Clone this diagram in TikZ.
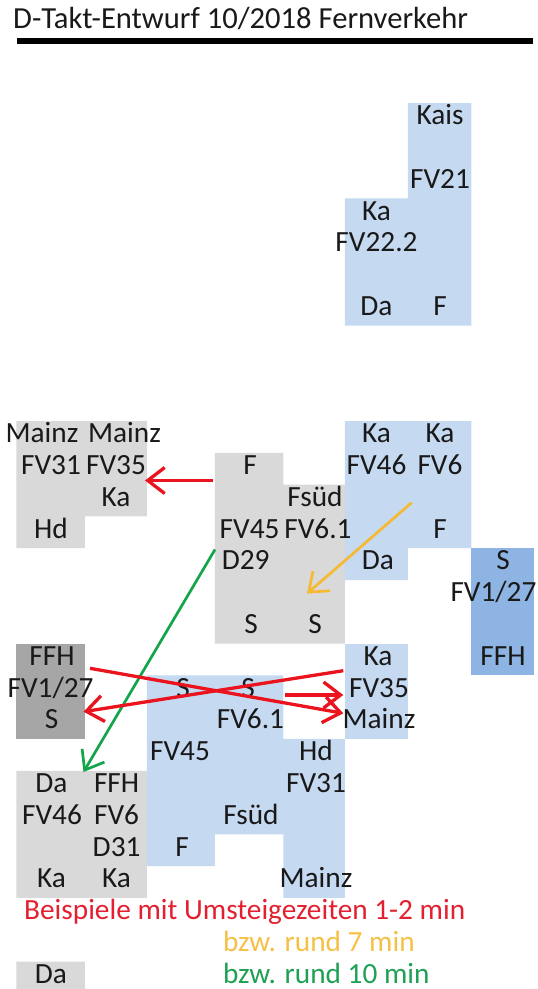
\documentclass[tikz,border=0pt]{standalone}
\usepackage{fontspec}
\setmainfont{Carlito}
\usetikzlibrary{arrows.meta}
\definecolor{cellblue}{RGB}{197,217,241}
\definecolor{cellmid}{RGB}{141,180,226}
\definecolor{cellgray}{RGB}{217,217,217}
\definecolor{celldark}{RGB}{166,166,166}
\definecolor{legred}{RGB}{226,32,48}
\definecolor{legorange}{RGB}{245,192,70}
\definecolor{leggreen}{RGB}{30,160,85}
\definecolor{hopred}{RGB}{235,20,30}
\definecolor{hoporange}{RGB}{245,185,50}
\definecolor{hopgreen}{RGB}{20,165,75}
\begin{document}
\begin{tikzpicture}[x=1pt, y=-31.8pt,
      cellbox/.style={anchor=base, yshift=-21.7pt, inner sep=0pt, font=\fontsize{29.3pt}{35pt}\selectfont, text=black!90},
      legtext/.style={cellbox, anchor=base west},
      hop/.style={-{Straight Barb[length=17pt,width=26pt]}, line width=3.3pt}]
   \useasboundingbox (0,-3.239) rectangle (538,27.862);
   \node[anchor=base west, inner sep=0pt, font=\fontsize{30.6pt}{36pt}\selectfont, text=black!90] (title) at (13,-2.3585) {D-Takt-Entwurf 10/2018 Fernverkehr};
   \draw[line width=5.5pt] (17,-1.956) -- (533.5,-1.956);
   \fill[cellblue] (408,0) rectangle (471.5,7) (345,3) rectangle (408,7);
   \fill[cellgray] (16.5,10) rectangle (85,14) (85,10) rectangle (147,13);
   \fill[cellgray] (215,11) rectangle (283.5,17) (283.5,12) rectangle (345,17);
   \fill[cellblue] (345,10) rectangle (408,15) (408,10) rectangle (471.5,14);
   \fill[cellmid] (471.5,14) rectangle (534,18);
   \fill[celldark] (16.5,17) rectangle (85,20);
   \fill[cellblue] (345,17) rectangle (408,20);
   \fill[cellblue] (147,18) rectangle (283.5,20) (147,20) rectangle (345,23)
      (147,23) rectangle (215,24) (283.5,23) rectangle (345,25);
   \fill[cellgray] (16.5,21) rectangle (147,25) (16.5,27) rectangle (85,27.862);
   \node[cellbox] (kais) at (440,0) {Kais};
   \node[cellbox] (fv21) at (440,2) {FV21};
   \node[cellbox] (ka0) at (376.5,3) {Ka};
   \node[cellbox] (fv22) at (376.5,4) {FV22.2};
   \node[cellbox] (da0) at (376.5,6) {Da};
   \node[cellbox] (f0) at (440,6) {F};
   \node[cellbox] (mainz1) at (42,10) {Mainz};
   \node[cellbox] (mainz2) at (124.5,10) {Mainz};
   \node[cellbox] (fv31a) at (51,11) {FV31};
   \node[cellbox] (fv35a) at (116,11) {FV35};
   \node[cellbox] (ka1) at (116,12) {Ka};
   \node[cellbox] (hd1) at (51,13) {Hd};
   \node[cellbox] (f1) at (250,11) {F};
   \node[cellbox] (fsued1) at (315,12) {Fsüd};
   \node[cellbox] (fv45a) at (249.6,13) {FV45};
   \node[cellbox] (fv61a) at (318,13) {FV6.1};
   \node[cellbox] (d29) at (245.7,14) {D29};
   \node[cellbox] (s1) at (251,16) {S};
   \node[cellbox] (s2) at (315,16) {S};
   \node[cellbox] (ka2) at (376.5,10) {Ka};
   \node[cellbox] (ka3) at (440,10) {Ka};
   \node[cellbox] (fv46a) at (376.5,11) {FV46};
   \node[cellbox] (fv6a) at (440,11) {FV6};
   \node[cellbox] (f2) at (440,13) {F};
   \node[cellbox] (da1) at (378,14) {Da};
   \node[cellbox] (s3) at (503,14) {S};
   \node[cellbox] (fv127a) at (493.5,15) {FV1/27};
   \node[cellbox] (ffh1) at (503,17) {FFH};
   \node[cellbox] (ffh2) at (52,17) {FFH};
   \node[cellbox] (fv127b) at (50.6,18) {FV1/27};
   \node[cellbox] (s4) at (51.5,19) {S};
   \node[cellbox] (ka4) at (378,17) {Ka};
   \node[cellbox] (fv35b) at (379,18) {FV35};
   \node[cellbox] (mainz3) at (379,19) {Mainz};
   \node[cellbox] (s5) at (183,18) {S};
   \node[cellbox] (s6) at (248,18) {S};
   \node[cellbox] (fv61b) at (250.5,19) {FV6.1};
   \node[cellbox] (fv45b) at (180,20) {FV45};
   \node[cellbox] (hd2) at (316,20) {Hd};
   \node[cellbox] (fv31b) at (316,21) {FV31};
   \node[cellbox] (fsued2) at (251,22) {Fsüd};
   \node[cellbox] (f3) at (182,23) {F};
   \node[cellbox] (mainz4) at (316,24) {Mainz};
   \node[cellbox] (da2) at (51.5,21) {Da};
   \node[cellbox] (ffh3) at (116.6,21) {FFH};
   \node[cellbox] (fv46b) at (52,22) {FV46};
   \node[cellbox] (fv6b) at (116.6,22) {FV6};
   \node[cellbox] (d31) at (116.6,23) {D31};
   \node[cellbox] (ka5) at (51.5,24) {Ka};
   \node[cellbox] (ka6) at (116.6,24) {Ka};
   \node[cellbox] (da3) at (51,27) {Da};
   \node[legtext, text=legred] (leg1) at (24,25) {Beispiele mit Umsteigezeiten 1-2 min};
   \node[legtext, text=legorange] (leg2) at (223,26) {bzw. rund 7 min};
   \node[legtext, text=leggreen] (leg3) at (223,27) {bzw. rund 10 min};
   \coordinate (a1) at (212.7,11.871);
   \coordinate (b1) at (145,11.871);
   \coordinate (a2) at (90,17.777);
   \coordinate (b2) at (343.3,19.192);
   \coordinate (a3) at (343.3,17.852);
   \coordinate (b3) at (83.5,19.142);
   \coordinate (a4) at (285,18.616);
   \coordinate (b4) at (343.3,18.616);
   \coordinate (a5) at (411.7,12.566);
   \coordinate (b5) at (307,15.428);
   \coordinate (a6) at (215,14.041);
   \coordinate (b6) at (83.5,21.038);
   \draw[hop, hopgreen, line width=2.7pt] (a6) -- (b6);
   \draw[hop, hoporange, line width=2.7pt] (a5) -- (b5);
   \draw[hop, hopred] (a1) -- (b1);
   \draw[hop, hopred] (a2) -- (b2);
   \draw[hop, hopred] (a3) -- (b3);
   \draw[hop, hopred] (a4) -- (b4);
\end{tikzpicture}
\end{document}
